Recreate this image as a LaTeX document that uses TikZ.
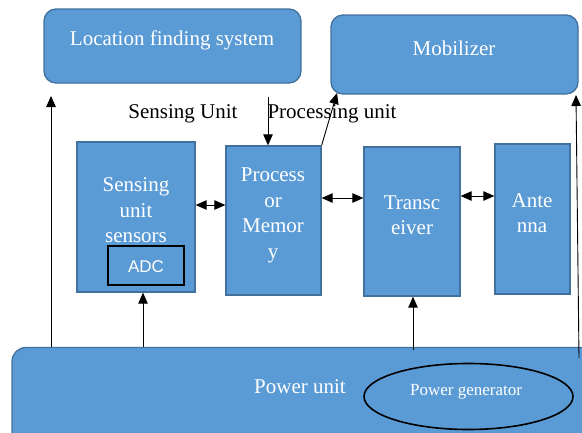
\documentclass[tikz,border=0pt]{standalone}
\usepackage{fontspec}
\setmainfont{Liberation Serif}
\newfontfamily\sansf{Liberation Sans}
\usetikzlibrary{arrows.meta,shapes.geometric}
\definecolor{boxfill}{HTML}{5B9BD5}
\definecolor{boxline}{HTML}{41719C}
\begin{document}
\begin{tikzpicture}[x=1pt,y=-1pt,
  box/.style={draw=boxline, line width=1.3pt, fill=boxfill, inner sep=0pt},
  rbox/.style={box, rounded corners=12pt},
  wtxt/.style={text=white, font=\fontsize{21}{25.5}\selectfont, align=center, inner sep=0pt},
  btxt/.style={text=black, font=\fontsize{21}{25}\selectfont, inner sep=0pt},
  arr/.style={-{Triangle[length=11pt,width=9.5pt]}, line width=0.9pt},
  darr/.style={{Triangle[length=11pt,width=9.5pt]}-{Triangle[length=11pt,width=9.5pt]}, line width=0.9pt}]
\clip (0,0) rectangle (582,432);
\fill[white] (0,0) rectangle (582,432);
% boxes
\node[rbox, minimum width=257pt, minimum height=74pt] (loc) at (172.5,46) {};
\node[rbox, minimum width=247pt, minimum height=79pt] (mob) at (454.5,54.5) {};
\node[box, minimum width=118pt, minimum height=150pt] (sens) at (136,217) {};
\node[draw=black, line width=2pt, fill=boxfill, minimum width=76pt, minimum height=39pt, inner sep=0pt] (adc) at (146,265.5) {};
\node[box, minimum width=95pt, minimum height=149pt] (proc) at (273.5,220.5) {};
\node[box, minimum width=96pt, minimum height=149pt] (trans) at (412,221.5) {};
\node[box, minimum width=75pt, minimum height=150pt] (ant) at (532.5,219) {};
\node[box, rounded corners=14pt, minimum width=588pt, minimum height=123pt] (power) at (306,409) {};
\node[ellipse, draw=black, line width=1.6pt, minimum width=209pt, minimum height=66pt, inner sep=0pt] (gen) at (468.5,396.5) {};
% texts
\node[wtxt] (tloc) at (172,40) {Location finding system};
\node[wtxt] (tmob) at (454,48) {Mobilizer};
\node[wtxt] (tsens) at (136,210.5) {Sensing\\unit\\sensors};
\node[text=white, font=\sansf\fontsize{17}{20}\selectfont, inner sep=0pt] (tadc) at (146,267) {ADC};
\node[wtxt] (tproc) at (273,215.5) {Process\\or\\Memor\\y};
\node[wtxt] (ttrans) at (412,215) {Transc\\eiver};
\node[wtxt] (tant) at (532,213) {Ante\\nna};
\node[wtxt] (tpow) at (300,387) {Power unit};
\node[text=white, font=\fontsize{17}{20}\selectfont, inner sep=0pt] (tgen) at (466,392) {Power generator};
\node[btxt] (lsu) at (183,113.5) {Sensing Unit};
\node[btxt] (lpu) at (332,113.5) {Processing unit};
% helper coordinates
\coordinate (l1) at (51,347);
\coordinate (l2) at (51,96);
\coordinate (pu1) at (268,97);
\coordinate (m1) at (337,93);
\coordinate (r1) at (579,358);
\coordinate (r2) at (576,95);
\coordinate (s1) at (143,0);
\coordinate (t1) at (413,350);
\coordinate (d1) at (0,205);
\coordinate (d2) at (0,198);
\coordinate (d3) at (0,196);
% connectors
\draw[arr] (l1) -- (l2);
\draw[arr] (pu1) -- (proc.north -| pu1);
\draw[arr] (proc.north east) -- (m1);
\draw[arr] (r1) -- (r2);
\draw[arr] (power.north -| s1) -- (sens.south -| s1);
\draw[arr] (t1) -- (trans.south -| t1);
\draw[darr] (sens.east |- d1) -- (proc.west |- d1);
\draw[darr] (proc.east |- d2) -- (trans.west |- d2);
\draw[darr] (trans.east |- d3) -- (ant.west |- d3);
\end{tikzpicture}
\end{document}
